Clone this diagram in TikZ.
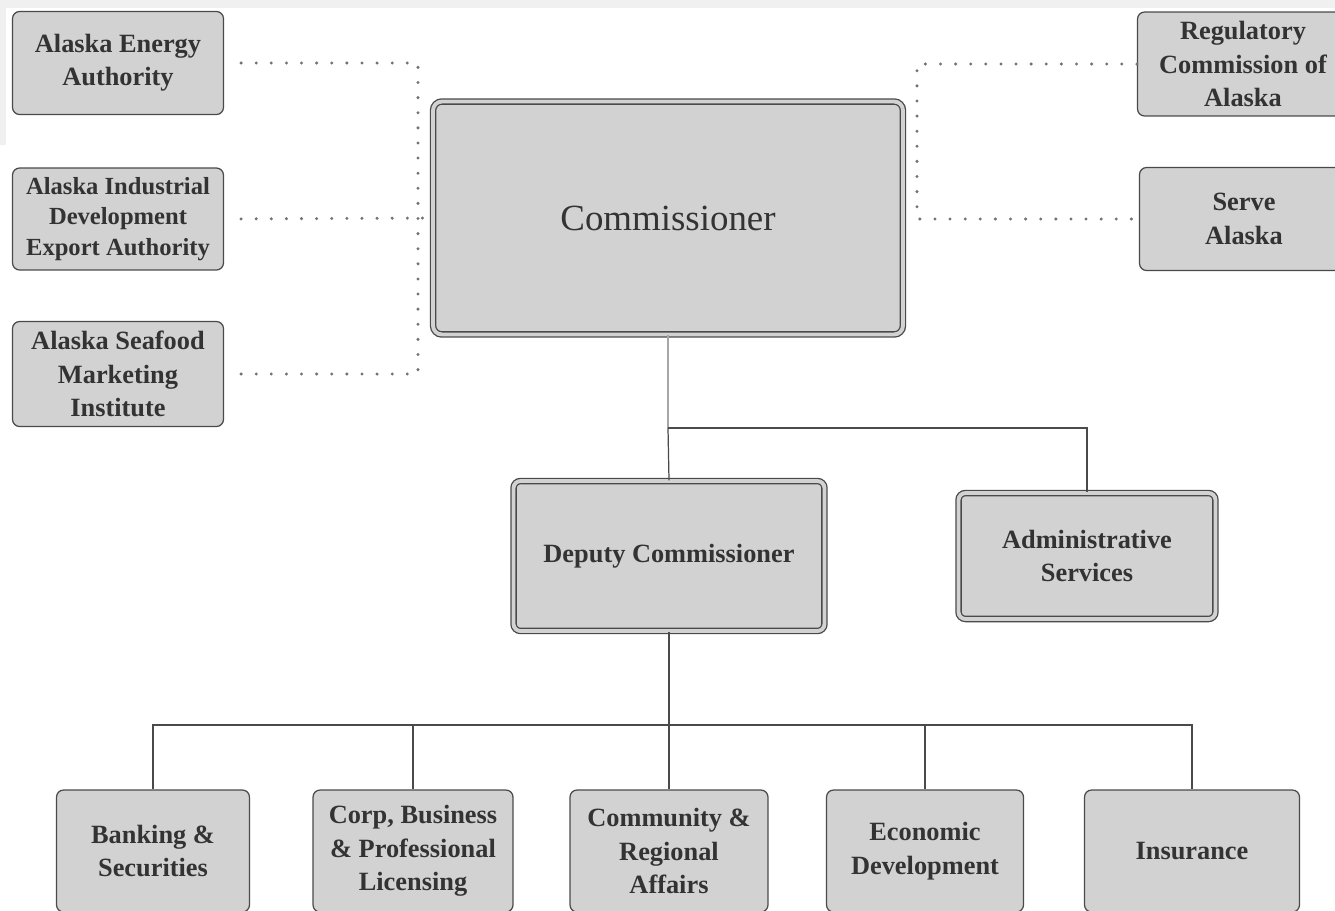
\documentclass[tikz,border=0pt]{standalone}
\usepackage{fontspec}
\setmainfont{Liberation Serif}
\usepackage{tikz}
\definecolor{boxgray}{HTML}{D2D2D2}
\definecolor{edgegray}{HTML}{4A4A4A}
\definecolor{inkgray}{HTML}{333333}
\tikzset{
  unit/.style={draw=edgegray, fill=boxgray, rounded corners=4pt, line width=0.7pt,
    align=center, text=inkgray, inner sep=2pt,
    font=\bfseries\fontsize{15}{19}\selectfont},
  headunit/.style={unit, double=boxgray, double distance=2.2pt, line width=0.75pt},
  dotline/.style={draw=gray!90!black, line width=1.9pt, line cap=round, dash pattern=on 0pt off 8.6pt},
  orgline/.style={draw=edgegray, line width=0.7pt}
}
\begin{document}
\begin{tikzpicture}[x=0.02cm,y=-0.02cm]
  \useasboundingbox (0,0) rectangle (1335,910);
  \clip (0,0) rectangle (1335,910);
  \fill[gray!12] (0,0) rectangle (1335,8);
  \fill[gray!12] (0,0) rectangle (6,145);

  \node[unit, minimum width=4.22cm, minimum height=2.06cm] (aea) at (118,63) {Alaska Energy\\Authority};
  \node[unit, minimum width=4.22cm, minimum height=2.04cm, font=\bfseries\fontsize{14}{17.5}\selectfont] (aidea) at (118,219) {Alaska Industrial\\Development\\Export Authority};
  \node[unit, minimum width=4.22cm, minimum height=2.1cm] (asmi) at (118,374) {Alaska Seafood\\Marketing\\Institute};
  \node[headunit, minimum width=9.4cm, minimum height=4.66cm, rounded corners=5pt, font=\fontsize{21}{25}\selectfont] (comm) at (668,218) {Commissioner};
  \node[unit, minimum width=4.22cm, minimum height=2.08cm] (rca) at (1243,64) {Regulatory\\Commission of\\Alaska};
  \node[unit, minimum width=4.18cm, minimum height=2.06cm] (serve) at (1244,219) {Serve\\Alaska};

  \node[headunit, minimum width=6.22cm, minimum height=3.0cm] (dep) at (669,556) {Deputy Commissioner};
  \node[headunit, minimum width=5.14cm, minimum height=2.52cm] (admin) at (1087,556) {Administrative\\Services};

  \node[unit, minimum width=3.86cm, minimum height=2.44cm] (bank) at (153,851) {Banking \&\\Securities};
  \node[unit, minimum width=4.0cm, minimum height=2.44cm] (corp) at (413,851) {Corp, Business\\\& Professional\\Licensing};
  \node[unit, minimum width=3.96cm, minimum height=2.44cm] (cra) at (669,851) {Community \&\\Regional\\Affairs};
  \node[unit, minimum width=3.94cm, minimum height=2.44cm] (econ) at (925,851) {Economic\\Development};
  \node[unit, minimum width=4.3cm, minimum height=2.44cm] (ins) at (1192,851) {Insurance};

  \coordinate (lbus) at (418,219);
  \coordinate (rbus) at (917,219);
  \draw[dotline, shorten <=0.34cm] (aea.east) -| (lbus);
  \draw[dotline, shorten <=0.34cm] (asmi.east) -| (lbus);
  \draw[dotline, shorten <=0.34cm] (aidea.east) -- (comm.west);
  \draw[dotline] (rca.west) -| (rbus) -- (serve.west);

  \coordinate (jt) at (668,428);
  \coordinate (jb) at (669,725);
  \draw[orgline, draw=gray!70] (comm.south) -- (jt);
  \draw[orgline] (jt) -- (dep.north);
  \draw[orgline] (jt) -| (admin.north);
  \draw[orgline] (dep.south) -- (jb);
  \foreach \n in {bank,corp,cra,econ,ins} {\draw[orgline] (jb) -| (\n.north);}
\end{tikzpicture}
\end{document}
